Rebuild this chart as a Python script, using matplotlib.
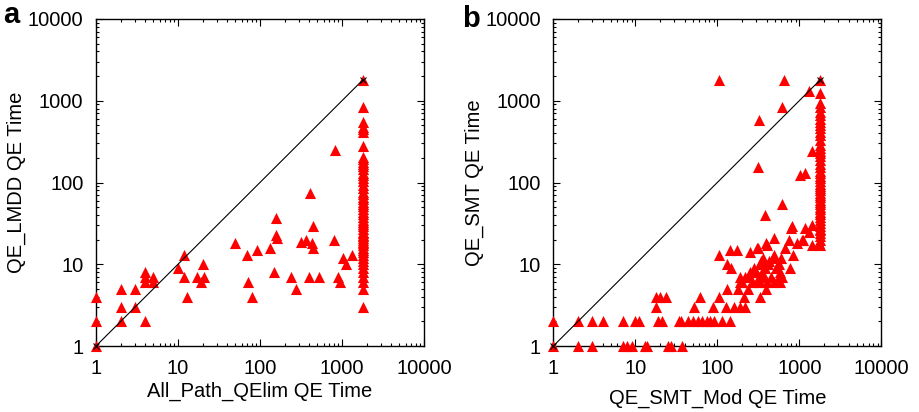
import matplotlib
matplotlib.use("Agg")
import matplotlib.pyplot as plt

plt.rcParams['font.family'] = ['Liberation Sans', 'DejaVu Sans']

TIMEOUT = 1800

# panel a: All_Path_QElim vs QE_LMDD
a_x = [1, 1, 1, 2, 2, 2, 3, 3, 4, 4, 4, 4, 5, 5, 10, 12, 12, 13, 17, 19, 20, 21,
       50, 70, 72, 79, 93, 132, 150, 155, 155, 160, 237, 275, 320, 365, 410, 430,
       440, 445, 400, 530, 820, 810, 900, 950, 1020, 1120, 1340]
a_y = [4, 2, 1, 5, 3, 2, 5, 3, 8, 7, 6, 2, 7, 6, 9, 13, 7, 4, 7, 6, 10, 7,
       18, 13, 6, 4, 15, 16, 8, 37, 23, 21, 7, 5, 19, 20, 75, 18,
       29, 16, 7, 7, 250, 20, 7, 6, 12, 10, 13]
# runs that timed out for All_Path_QElim
a_col_y = [3, 5, 6, 7, 8, 9, 10, 11, 12, 13, 14, 15, 16, 17, 18, 19, 20, 21, 22, 23,
           24, 25, 27, 29, 31, 33, 35, 38, 41, 44, 48, 51, 55, 58, 63, 67, 72, 77,
           85, 93, 103, 113, 122, 130, 145, 157, 170, 180, 195, 207, 280, 420, 450,
           483, 556, 850, 1800]

# panel b: QE_SMT_Mod vs QE_SMT
b_x = [1, 2, 3, 7, 8, 9, 13, 14, 25, 27, 37,
       1, 2, 3, 4, 7, 10, 11, 19, 21, 34, 36, 44, 50, 58, 66, 75, 82, 90, 114, 144,
       18, 52, 88, 128, 161, 187, 219,
       18, 20, 24, 61, 105, 213, 333,
       131, 178, 234, 395,
       187, 200, 268, 305, 333, 400, 485, 590,
       191, 220, 252, 320, 360, 450, 560, 620,
       253, 300, 350, 588,
       148, 280, 380, 520, 776,
       131, 330, 420, 560,
       340, 364, 480, 430, 600,
       106, 253, 486, 850,
       144, 174, 304, 674, 312,
       403, 940, 1430, 1720, 390,
       486, 740, 1125, 1075,
       800, 1180, 1430, 815, 1300,
       385, 615, 1020, 1175, 1430, 318, 327, 615, 1330, 105, 660]
b_y = [1, 1, 1, 1, 1, 1, 1, 1, 1, 1, 1,
       2, 2, 2, 2, 2, 2, 2, 2, 2, 2, 2, 2, 2, 2, 2, 2, 2, 2, 2, 2,
       3, 3, 3, 3, 3, 3, 3,
       4, 4, 4, 4, 4, 4, 4,
       5, 5, 5, 5,
       6, 6, 6, 6, 6, 6, 6, 6,
       7, 7, 7, 7, 7, 7, 7, 7,
       8, 8, 8, 8,
       9, 9, 9, 9, 9,
       10, 10, 10, 10,
       11, 12, 12, 11, 12,
       13, 14, 13, 13,
       15, 15, 16, 16, 16,
       17, 18, 17, 18, 18,
       21, 20, 20, 20,
       28, 28, 30, 29, 25,
       40, 55, 124, 130, 240, 155, 585, 830, 1330, 1800, 1800]
b_col_y = [17, 20, 22, 24, 26, 27, 29, 32, 35, 38, 41, 44, 47, 50, 54, 58, 61, 66,
           70, 74, 80, 85, 90, 97, 105, 112, 120, 129, 140, 155, 170, 188, 210,
           227, 245, 261, 290, 330, 380, 420, 458, 504, 550, 604, 670, 731, 850,
           944, 1230, 1800]

ticks = [1, 10, 100, 1000, 10000]
tick_labels = ['1', '10', '100', '1000', '10000']

fig = plt.figure(figsize=(9.2, 4.12), dpi=100)
ax_a = fig.add_axes([0.1043, 0.160, 0.3565, 0.794])
ax_b = fig.add_axes([0.6014, 0.160, 0.3565, 0.794])

panels = [
    (ax_a, a_x, a_y, a_col_y, 'All_Path_QElim QE Time', 'QE_LMDD QE Time', 3),
    (ax_b, b_x, b_y, b_col_y, 'QE_SMT_Mod QE Time', 'QE_SMT QE Time', 8),
]

for ax, xs, ys, col, xlabel, ylabel, xlpad in panels:
    ax.set_xscale('log')
    ax.set_yscale('log')
    ax.scatter(xs, ys, marker='^', s=64, color='#ff0000', linewidths=0,
               zorder=3, clip_on=False)
    ax.scatter([TIMEOUT] * len(col), col, marker='^', s=64, color='#ff0000',
               linewidths=0, zorder=3, clip_on=False)
    ax.plot([1, TIMEOUT], [1, TIMEOUT], color='black', lw=0.8, marker='x',
            markersize=5, markeredgewidth=0.8, zorder=4, clip_on=False)
    ax.set_xlim(1, 10000)
    ax.set_ylim(1, 10000)
    ax.set_xticks(ticks)
    ax.set_xticklabels(tick_labels)
    ax.set_yticks(ticks)
    ax.set_yticklabels(tick_labels)
    ax.tick_params(which='both', direction='in', top=True, right=True,
                   labelsize=14.5, width=0.8)
    ax.tick_params(which='major', length=5)
    ax.tick_params(which='minor', length=2.5)
    ax.tick_params(axis='x', pad=9)
    ax.tick_params(axis='y', pad=9)
    ax.set_xlabel(xlabel, fontsize=14.5, labelpad=xlpad)
    ax.set_ylabel(ylabel, fontsize=14.5, labelpad=1)
    for sp in ax.spines.values():
        sp.set_linewidth(1.0)

fig.text(0.003, 0.945, 'a', fontsize=21, fontweight='bold', ha='left', va='baseline')
fig.text(0.502, 0.935, 'b', fontsize=21, fontweight='bold', ha='left', va='baseline')

fig.savefig('out.png', dpi=100)
